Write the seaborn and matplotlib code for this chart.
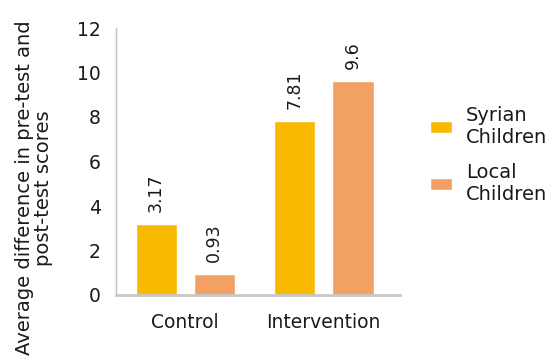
import matplotlib
matplotlib.use("Agg")
import matplotlib.pyplot as plt
import seaborn as sns
import pandas as pd

groups = ["Control", "Intervention"]
series = ["Syrian\nChildren", "Local\nChildren"]
syrian_values = [3.17, 7.81]
local_values = [0.93, 9.6]
colors = ["#F9B900", "#F2A064"]
y_ticks = [0, 2, 4, 6, 8, 10, 12]
y_label = "Average difference in pre-test and\npost-test scores"

df = pd.DataFrame({
    "group": groups * 2,
    "series": [series[0]] * 2 + [series[1]] * 2,
    "value": syrian_values + local_values,
})

sns.set_style("white")
plt.rcParams["font.family"] = ["DejaVu Sans"]
plt.rcParams["text.color"] = "#1a1a1a"

fig = plt.figure(figsize=(5.59, 3.59), dpi=100)
ax = fig.add_axes([116 / 559, 1 - 295 / 359, 284 / 559, (295 - 28) / 359])

sns.barplot(data=df, x="group", y="value", hue="series", palette=colors,
            width=0.84, gap=0.29, saturation=1, ax=ax, legend=True)

for cont in ax.containers:
    ax.bar_label(cont, fmt="%g", rotation=90, padding=9, fontsize=12.5, color="#1a1a1a")

ax.set_ylim(0, 12)
ax.set_xlim(-0.5, 1.55)
ax.set_yticks(y_ticks)
ax.set_xlabel("")
ax.set_ylabel("")
ax.tick_params(axis="y", direction="in", length=6, color="#BFBFBF", pad=11, labelsize=13.5, labelcolor="#1a1a1a")
ax.tick_params(axis="x", length=0, pad=13, labelsize=13.5, labelcolor="#1a1a1a")
for s in ["top", "right"]:
    ax.spines[s].set_visible(False)
ax.spines["left"].set_color("#BFBFBF")
ax.spines["left"].set_linewidth(1)
ax.spines["bottom"].set_color("#C8C8C8")
ax.spines["bottom"].set_linewidth(2)

fig.text(34 / 559, 1 - 188 / 359, y_label, rotation=90, ha="center", va="center",
         multialignment="center", fontsize=14, color="#1a1a1a", linespacing=1.05)

handles, labels = ax.get_legend_handles_labels()
ax.get_legend().remove()
fig.legend(handles, labels, loc="upper left", bbox_to_anchor=(430 / 559, 1 - 106 / 359),
           frameon=False, fontsize=14, borderpad=0, borderaxespad=0,
           handlelength=1.15, handleheight=0.6, handletextpad=0.7, labelspacing=0.8)

fig.savefig("out.png", dpi=100)
